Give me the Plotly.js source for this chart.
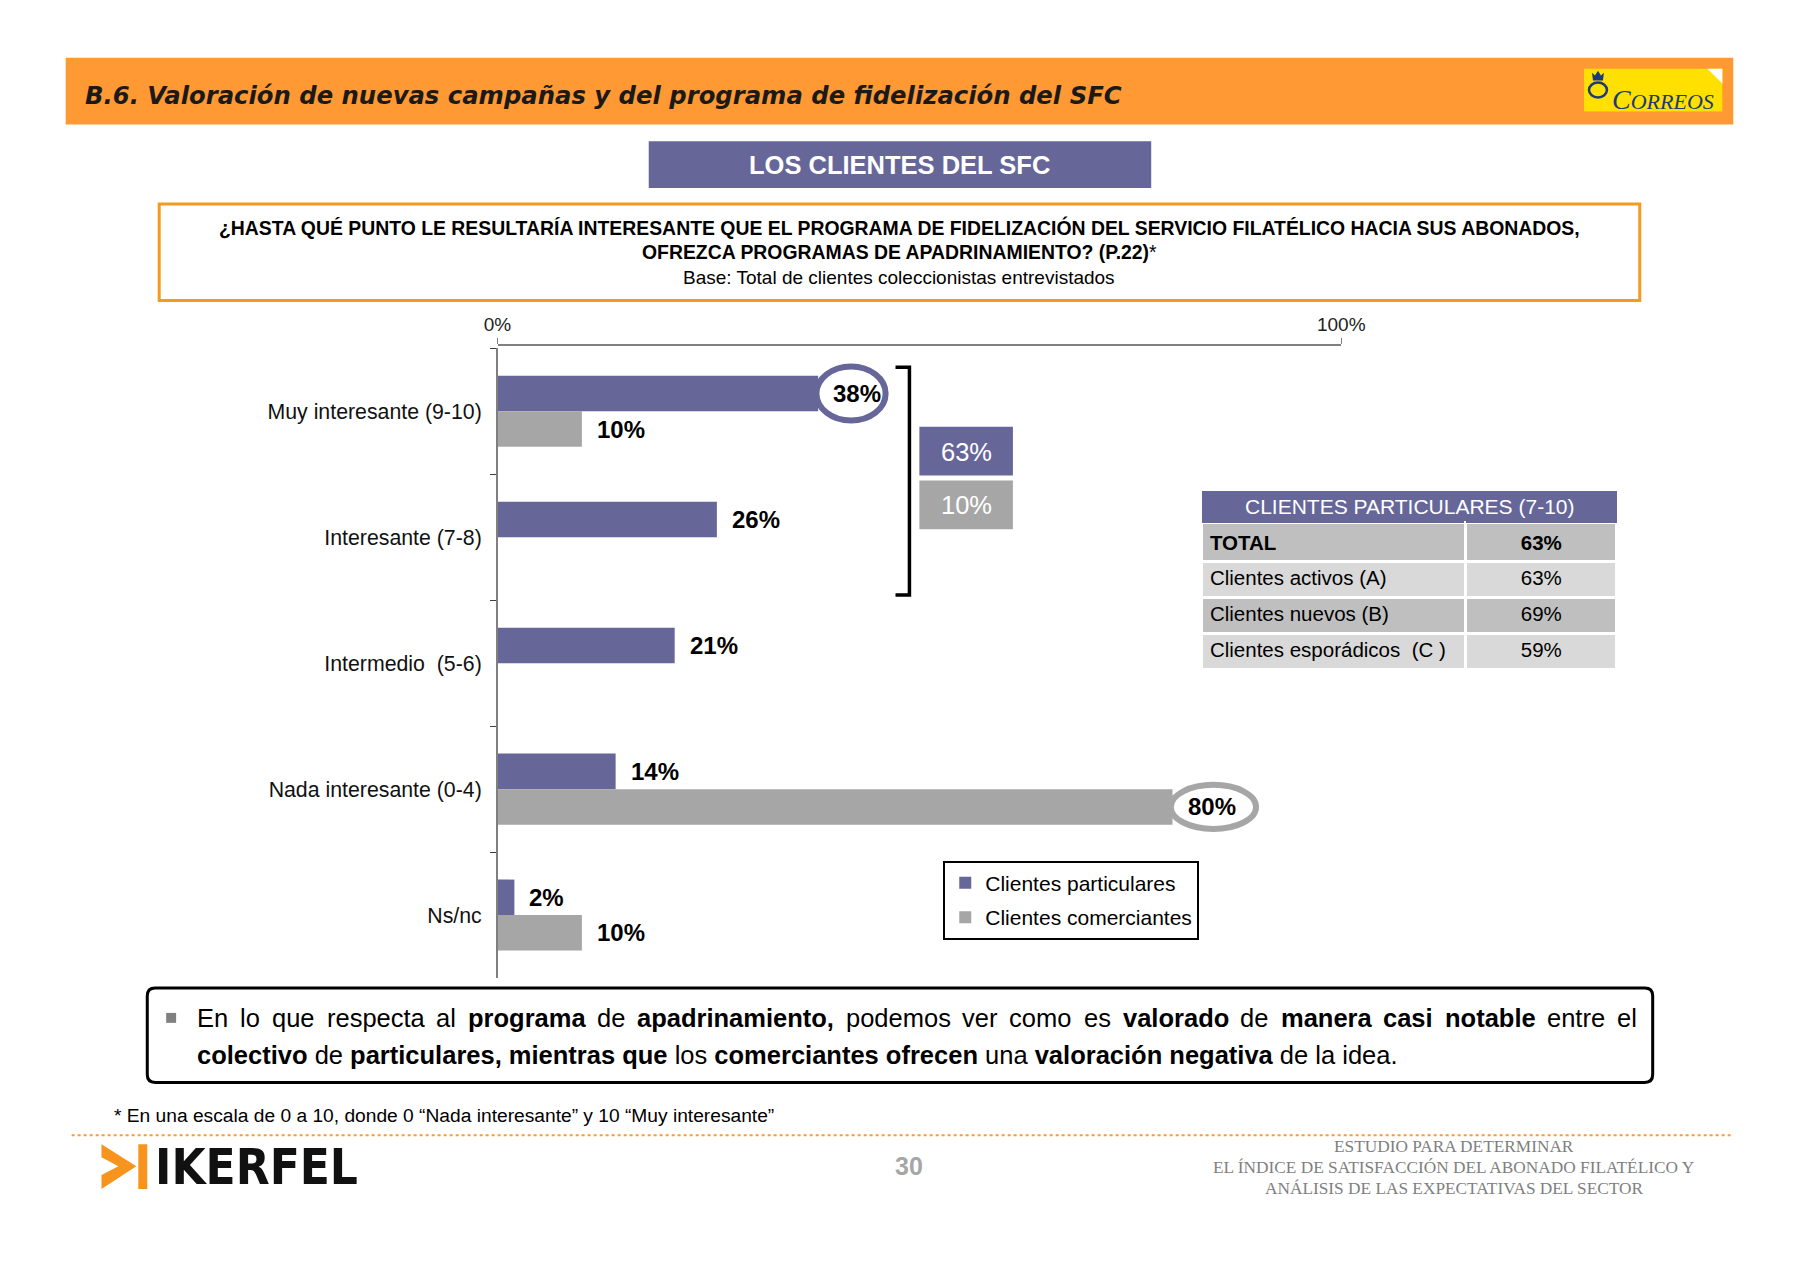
<!DOCTYPE html>
<html>
<head>
<meta charset="utf-8">
<script src="https://cdn.plot.ly/plotly-3.0.1.min.js"></script>
<style>html,body{margin:0;padding:0;background:#fff;}#chart{width:1800px;height:1261px;}</style>
</head>
<body>
<div id="chart"></div>
<script>
// ---------- data ----------
const categories = ['Muy interesante (9-10)', 'Interesante (7-8)', 'Intermedio  (5-6)', 'Nada interesante (0-4)', 'Ns/nc'];
const particulares = [38, 26, 21, 14, 2];
const comerciantes = [10, 0, 0, 80, 10];
const seriesNames = ['Clientes particulares', 'Clientes comerciantes'];
const summaryValues = [63, 10];
const tableTitle = 'CLIENTES PARTICULARES (7-10)';
const tableLabels = ['TOTAL', 'Clientes activos (A)', 'Clientes nuevos (B)', 'Clientes esporádicos  (C )'];
const tableValues = [63, 63, 69, 59];
const xTickVals = [0, 100];
const xTickText = ['0%', '100%'];

// ---------- helpers ----------
const W = 1800, H = 1261, K = 0.995;
const px = v => v * K / W;
const py = v => 1 - v * K / H;
const FONT = 'Liberation Sans, Arial, sans-serif';
const PURPLE = '#666699', GRAY = '#A6A6A6', ORANGE = '#FF9933';

const canvas = document.createElement('canvas');
const ctx = canvas.getContext('2d');
function measure(t, bold, size) {
  ctx.font = (bold ? 'bold ' : '') + size + 'px "Liberation Sans"';
  return ctx.measureText(t).width;
}

const shapes = [];
const annotations = [];
function txt(x, y, text, size, opts) {
  annotations.push(Object.assign({
    xref: 'paper', yref: 'paper', x: px(x), y: py(y), text: text, showarrow: false,
    xanchor: 'center', yanchor: 'middle', font: {family: FONT, size: size, color: '#000'}
  }, opts || {}));
}
function rect(x0, y0, x1, y1, fill, line) {
  shapes.push({type: 'rect', xref: 'paper', yref: 'paper', x0: px(x0), x1: px(x1), y0: py(y1), y1: py(y0),
    fillcolor: fill, line: line || {width: 0}, layer: 'above'});
}
function pathP(pts, close) {
  return pts.map((p, i) => (i ? 'L' : 'M') + px(p[0]) + ',' + py(p[1])).join(' ') + (close ? ' Z' : '');
}

// header band
rect(66, 58, 1742, 125, ORANGE);
txt(83, 96, '<b><i>B.6. Valoración de nuevas campañas y del programa de fidelización del SFC</i></b>', 24.3,
  {xanchor: 'left', font: {family: 'DejaVu Sans, sans-serif', size: 24.3, color: '#1a1a1a'}});
// Correos logo
rect(1592, 69, 1731, 112, '#FFE000');
shapes.push({type: 'path', xref: 'paper', yref: 'paper', layer: 'above',
  path: pathP([[1716, 69], [1731, 69], [1731, 84]], true), fillcolor: '#ffffff', line: {width: 0}});
shapes.push({type: 'path', xref: 'paper', yref: 'paper', layer: 'above', fillcolor: '#1B3A7A', line: {width: 0},
  path: pathP([[1601, 81], [1600, 73], [1603, 76], [1606, 71], [1609, 76], [1612, 73], [1611, 81]], true)});
shapes.push({type: 'circle', xref: 'paper', yref: 'paper', layer: 'above',
  x0: px(1597), x1: px(1615), y0: py(98), y1: py(83), fillcolor: 'rgba(0,0,0,0)', line: {color: '#1B3A7A', width: 2.5}});
txt(1671, 100, '<i><span style="font-size:28px">C</span>ORREOS</i>', 22, {font: {family: 'Liberation Serif, serif', size: 22, color: '#1B3A7A'}});

// section label
rect(652, 142, 1157, 189, PURPLE);
txt(904, 166, '<b>LOS CLIENTES DEL SFC</b>', 25.5, {font: {family: FONT, size: 25.5, color: '#fff'}});

// question box
shapes.push({type: 'rect', xref: 'paper', yref: 'paper', x0: px(160), x1: px(1648), y0: py(302), y1: py(205),
  line: {color: '#F59A1E', width: 3}, fillcolor: 'rgba(0,0,0,0)'});
txt(904, 229, '<b>¿HASTA QUÉ PUNTO LE RESULTARÍA INTERESANTE QUE EL PROGRAMA DE FIDELIZACIÓN DEL SERVICIO FILATÉLICO HACIA SUS ABONADOS,</b>', 19.4);
txt(904, 253, '<b>OFREZCA PROGRAMAS DE APADRINAMIENTO? (P.22)</b>*', 19.4);
txt(904, 279, 'Base: Total de clientes coleccionistas entrevistados', 19);

// ---------- bars ----------
const values = [particulares, comerciantes];
const colors = [PURPLE, GRAY];
const traces = values.map((vals, s) => ({
  type: 'bar', orientation: 'h', y: categories, x: vals, name: seriesNames[s],
  marker: {color: colors[s]}, hoverinfo: 'skip', legendgroup: 'g' + s
}));

// bar value labels
const barHalf = 17.8;
values.forEach((vals, s) => {
  vals.forEach((v, i) => {
    if (v > 0) {
      annotations.push({xref: 'x', yref: 'y', x: v, y: categories[i], text: '<b>' + v + '%</b>',
        showarrow: false, xanchor: 'left', yanchor: 'middle', xshift: 13, yshift: s === 0 ? barHalf : -barHalf,
        font: {family: FONT, size: 24, color: '#000'}});
    }
  });
});

// highlight ellipses around the two key labels
const off = 0.141;
[[0, 0, 0.2, 8.0, 0.215, PURPLE], [1, 3, 0.2, 9.9, 0.175, GRAY]].forEach(h => {
  const [s, i, a, b, hh, c] = h;
  const v = values[s][i];
  const yc = i + (s === 0 ? -off : off);
  shapes.push({type: 'circle', xref: 'x', yref: 'y', x0: v - a, x1: v + b, y0: yc - hh, y1: yc + hh,
    fillcolor: '#ffffff', line: {color: c, width: 6}, layer: 'above'});
});

// bracket + summary boxes
shapes.push({type: 'path', xref: 'paper', yref: 'paper', layer: 'above', line: {color: '#000', width: 3.5},
  path: pathP([[900, 369], [914, 369], [914, 598], [900, 598]], false)});
rect(924, 429, 1018, 478, PURPLE);
rect(924, 483, 1018, 532, GRAY);
txt(971, 454, summaryValues[0] + '%', 25.5, {font: {family: FONT, size: 25.5, color: '#fff'}});
txt(971, 508, summaryValues[1] + '%', 25.5, {font: {family: FONT, size: 25.5, color: '#fff'}});

// ---------- table ----------
const rowFill = tableLabels.map((_, i) => i % 2 === 0 ? '#BFBFBF' : '#D9D9D9');
const tableTrace = {
  type: 'table',
  domain: {x: [px(1208), px(1626)], y: [py(675), py(493)]},
  columnwidth: [263, 151],
  header: {values: ['', ''], height: 32, fill: {color: PURPLE}, line: {width: 0, color: PURPLE}},
  cells: {
    values: [tableLabels.map((t, i) => i === 0 ? '<b>' + t + '</b>' : t),
             tableValues.map((v, i) => i === 0 ? '<b>' + v + '%</b>' : v + '%')],
    height: 36, align: ['left', 'center'],
    fill: {color: [rowFill, rowFill]}, line: {color: '#ffffff', width: 3},
    font: {family: FONT, size: 20.5, color: '#000'}
  }
};
txt(1417, 509, tableTitle, 21, {font: {family: FONT, size: 21, color: '#fff'}});

// ---------- commentary box ----------
const r = 8, bx0 = 148, bx1 = 1661, by0 = 993, by1 = 1088;
shapes.push({type: 'path', xref: 'paper', yref: 'paper', layer: 'above', line: {color: '#000', width: 3},
  path: `M${px(bx0 + r)},${py(by0)} L${px(bx1 - r)},${py(by0)} Q${px(bx1)},${py(by0)} ${px(bx1)},${py(by0 + r)} ` +
        `L${px(bx1)},${py(by1 - r)} Q${px(bx1)},${py(by1)} ${px(bx1 - r)},${py(by1)} ` +
        `L${px(bx0 + r)},${py(by1)} Q${px(bx0)},${py(by1)} ${px(bx0)},${py(by1 - r)} ` +
        `L${px(bx0)},${py(by0 + r)} Q${px(bx0)},${py(by0)} ${px(bx0 + r)},${py(by0)} Z`});
rect(167, 1018, 177, 1028, '#808080');
const FS = 25.5;
const line1 = [['En',0],['lo',0],['que',0],['respecta',0],['al',0],['programa',1],['de',0],['apadrinamiento,',1],['podemos',0],['ver',0],['como',0],['es',0],['valorado',1],['de',0],['manera',1],['casi',1],['notable',1],['entre',0],['el',0]];
(function justify(tokens, x0, x1, y) {
  const widths = tokens.map(t => measure(t[0], t[1], FS));
  const total = widths.reduce((a, b) => a + b, 0);
  const gap = (x1 - x0 - total) / (tokens.length - 1);
  let x = x0;
  tokens.forEach((t, k) => {
    txt(x, y, t[1] ? '<b>' + t[0] + '</b>' : t[0], FS, {xanchor: 'left', font: {family: FONT, size: FS, color: '#000'}});
    x += widths[k] + gap;
  });
})(line1, 196, 1643, 1023);
txt(196, 1060, '<b>colectivo</b> de <b>particulares, mientras que</b> los <b>comerciantes ofrecen</b> una <b>valoración negativa</b> de la idea.', FS,
  {xanchor: 'left', font: {family: FONT, size: FS, color: '#000'}});

// footnote
txt(113, 1121, '* En una escala de 0 a 10, donde 0 “Nada interesante” y 10 “Muy interesante”', 19.2, {xanchor: 'left'});

// dotted separator
shapes.push({type: 'line', xref: 'paper', yref: 'paper', x0: px(72), x1: px(1742), y0: py(1141), y1: py(1141),
  line: {color: ORANGE, width: 2, dash: 'dot'}});

// IKERFEL logo
shapes.push({type: 'path', xref: 'paper', yref: 'paper', layer: 'above', fillcolor: '#F7941D', line: {width: 0},
  path: pathP([[102, 1150], [137, 1172], [102, 1195], [102, 1181], [119, 1172], [102, 1163]], true)});
rect(139, 1150, 148, 1195, '#F7941D');
txt(154, 1173, '<b>IKERFEL</b>', 49, {xanchor: 'left', font: {family: 'DejaVu Sans Condensed, DejaVu Sans, sans-serif', size: 49, color: '#111'}});

// page number
txt(914, 1172, '<b>30</b>', 25, {font: {family: FONT, size: 25, color: '#A6A6A6'}});

// right footer
const serifFont = {family: 'Liberation Serif, Times New Roman, serif', size: 17.3, color: '#7f7f7f'};
txt(1461, 1152, 'ESTUDIO PARA DETERMINAR', 17.3, {font: serifFont});
txt(1461, 1173, 'EL ÍNDICE DE SATISFACCIÓN DEL ABONADO FILATÉLICO Y', 17.3, {font: serifFont});
txt(1461, 1194, 'ANÁLISIS DE LAS EXPECTATIVAS DEL SECTOR', 17.3, {font: serifFont});

// ---------- layout ----------
const layout = {
  width: W, height: H,
  margin: {l: 0, r: 0, t: 0, b: 0},
  paper_bgcolor: '#fff', plot_bgcolor: 'rgba(0,0,0,0)',
  font: {family: FONT, color: '#000'},
  barmode: 'group', bargap: 0.436, bargroupgap: 0,
  xaxis: {
    domain: [px(500), px(1348)], range: [0, 100], side: 'top', anchor: 'free', position: py(346),
    tickvals: xTickVals, ticktext: xTickText, ticks: 'outside', ticklen: 6, tickcolor: '#7f7f7f',
    showline: true, linecolor: '#7f7f7f', linewidth: 1.5, showgrid: false, zeroline: false,
    tickfont: {family: FONT, size: 19, color: '#222'}, fixedrange: true
  },
  yaxis: {
    domain: [py(983), py(350)], type: 'category', range: [4.5, -0.5],
    ticks: 'outside', tickson: 'boundaries', ticklen: 6, tickcolor: '#404040',
    showline: true, linecolor: '#7f7f7f', linewidth: 1.5, showgrid: false, zeroline: false,
    tickfont: {family: FONT, size: 21.3, color: '#111'}, ticklabelstandoff: 10, fixedrange: true
  },
  showlegend: true,
  legend: {
    x: px(948), y: py(865), xanchor: 'left', yanchor: 'top',
    bgcolor: '#fff', bordercolor: '#000', borderwidth: 2,
    font: {family: FONT, size: 21, color: '#000'}, tracegroupgap: 4, traceorder: 'grouped'
  },
  shapes: shapes, annotations: annotations
};

Plotly.newPlot('chart', traces.concat([tableTrace]), layout, {displayModeBar: false, staticPlot: true});
</script>
</body>
</html>
